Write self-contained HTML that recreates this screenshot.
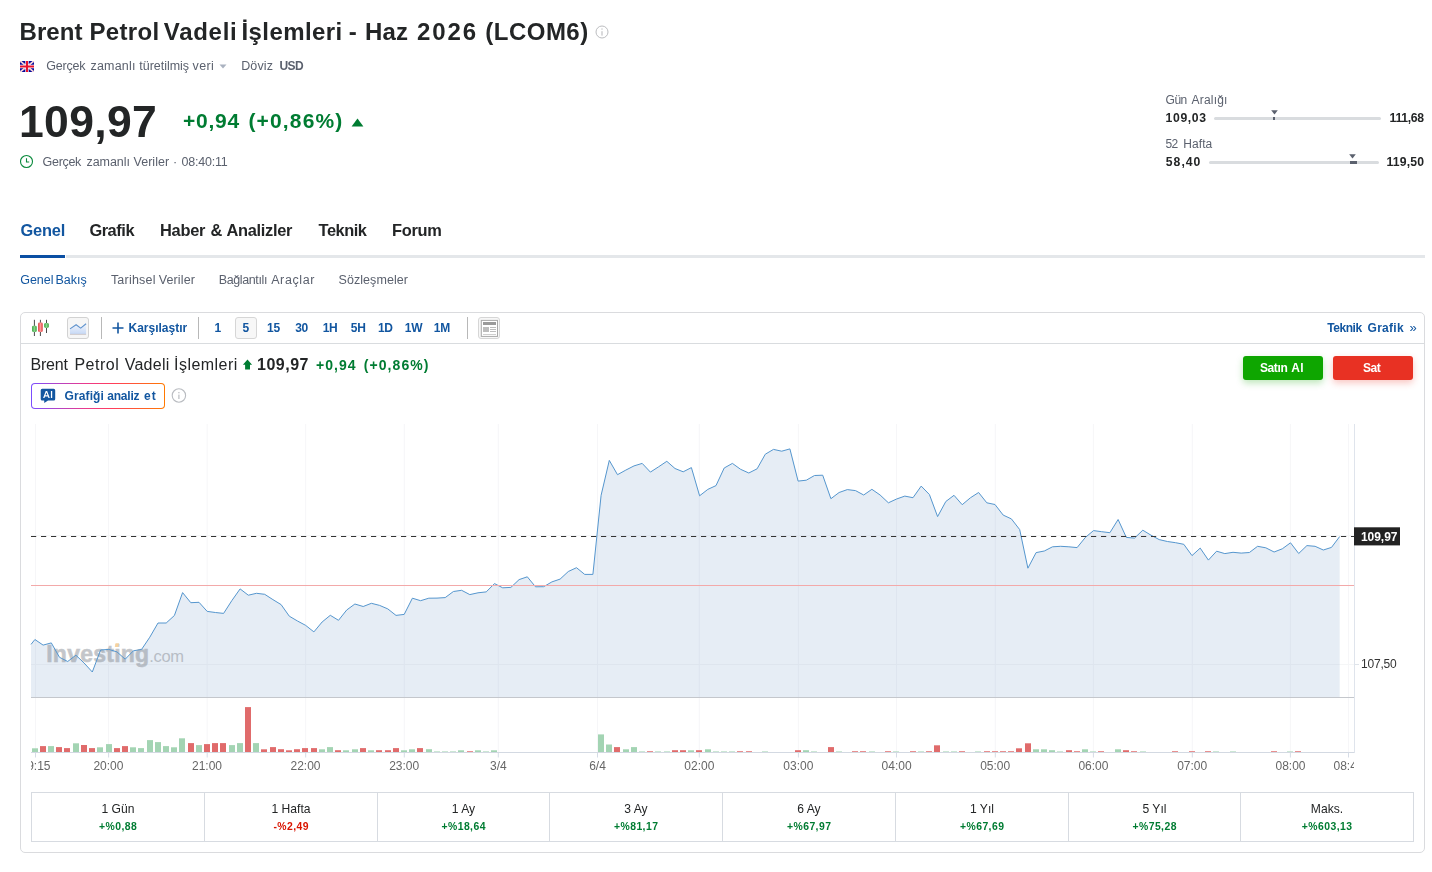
<!DOCTYPE html>
<html><head><meta charset="utf-8"><title>Brent</title><style>
html,body{margin:0;padding:0;background:#fff;}
body{width:1432px;height:872px;position:relative;overflow:hidden;font-family:"Liberation Sans",sans-serif;}
.abs{position:absolute;}
.t{position:absolute;white-space:nowrap;line-height:1;}
</style></head><body>
<svg class="abs" style="left:20px;top:61px" width="14" height="11" viewBox="0 0 14 11">
<rect width="14" height="11" fill="#0a0a96"/>
<path d="M0,0 L14,11 M14,0 L0,11" stroke="#fff" stroke-width="1.7"/>
<path d="M0,0 L14,11 M14,0 L0,11" stroke="#f08a96" stroke-width="0.6"/>
<path d="M7,0 V11 M0,5.5 H14" stroke="#fff" stroke-width="3.4"/>
<path d="M7,0 V11 M0,5.5 H14" stroke="#e8112d" stroke-width="2.1"/>
</svg>
<svg class="abs" style="left:219px;top:64px" width="8" height="5" viewBox="0 0 8 5"><path d="M0.5,0.5 H7.5 L4,4.5 Z" fill="#aab2c0"/></svg>
<svg class="abs" style="left:595px;top:25px" width="14" height="14" viewBox="0 0 14 14"><circle cx="7" cy="7" r="6" fill="none" stroke="#bcbdc0" stroke-width="1"/><rect x="6.45" y="6.2" width="1.1" height="4.4" fill="#bcbdc0"/><rect x="6.45" y="3.4" width="1.1" height="1.3" fill="#bcbdc0"/></svg>
<svg class="abs" style="left:351px;top:118px" width="13" height="9" viewBox="0 0 13 9"><path d="M6.5,0.6 L12.4,8.4 H0.6 Z" fill="#007c32"/></svg>
<svg class="abs" style="left:19px;top:154px" width="15" height="15" viewBox="0 0 15 15"><circle cx="7.5" cy="7.5" r="6" fill="none" stroke="#0a8a3c" stroke-width="1.1"/><path d="M7.5,4.2 V8 H10.2" fill="none" stroke="#0a8a3c" stroke-width="1.1"/></svg>
<div class="abs" style="left:1214px;top:117px;width:167px;height:3px;background:#d9dcdf;border-radius:2px"></div>
<div class="abs" style="left:1273.4px;top:117px;width:1.6px;height:3px;background:#5b616e"></div>
<svg class="abs" style="left:1271px;top:110px" width="7" height="5" viewBox="0 0 7 5"><path d="M0.2,0.3 H6.8 L3.5,4.4 Z" fill="#5b616e"/></svg>
<div class="abs" style="left:1209px;top:161px;width:170px;height:3px;background:#d9dcdf;border-radius:2px"></div>
<div class="abs" style="left:1349.8px;top:161px;width:7.3px;height:3px;background:#5b616e"></div>
<svg class="abs" style="left:1349px;top:154px" width="7" height="5" viewBox="0 0 7 5"><path d="M0.2,0.3 H6.8 L3.5,4.4 Z" fill="#5b616e"/></svg>
<div class="abs" style="left:66px;top:255px;width:1359px;height:3px;background:#e4e7ea"></div>
<div class="abs" style="left:20px;top:255px;width:45px;height:3px;background:#0b4fa3"></div>
<div class="abs" style="left:20px;top:312px;width:1403px;height:539px;border:1px solid #dadbde;border-radius:5px"></div>
<div class="abs" style="left:21px;top:343px;width:1403px;height:1px;background:#d9dcdf"></div>
<div class="abs" style="left:31px;top:383px;width:134px;height:26px;border-radius:4px;background:linear-gradient(90deg,#7a4dff 0%,#e93a8f 40%,#ff3d5e 60%,#ff7a00 100%)"></div>
<div class="abs" style="left:32px;top:384px;width:132px;height:24px;border-radius:3px;background:#fff"></div>
<div class="abs" style="left:67.3px;top:317.2px;width:19.3px;height:19.5px;border:1px solid #d2d2d2;border-radius:3px;background:#f6f6f6"></div>
<svg class="abs" style="left:0;top:0" width="520" height="420" viewBox="0 0 520 420">
<defs><linearGradient id="gG" x1="0" x2="1" y1="0" y2="0"><stop offset="0" stop-color="#2f9e36"/><stop offset=".5" stop-color="#8bd68e"/><stop offset="1" stop-color="#2f9e36"/></linearGradient>
<linearGradient id="gR" x1="0" x2="1" y1="0" y2="0"><stop offset="0" stop-color="#dc3535"/><stop offset=".5" stop-color="#ff9a9a"/><stop offset="1" stop-color="#dc3535"/></linearGradient>
<linearGradient id="gA" x1="0" x2="0" y1="0" y2="1"><stop offset="0" stop-color="#f2f6fd"/><stop offset="1" stop-color="#c6d8f5"/></linearGradient></defs>
<path d="M34.4,319.8 V336 M40.4,319.8 V336 M46.5,319.8 V333" stroke="#4a4a4a" stroke-width="1" fill="none"/>
<rect x="32.1" y="325.7" width="4.6" height="6.4" rx="1.4" fill="url(#gG)"/>
<rect x="38.1" y="322.5" width="4.6" height="9.6" rx="1.4" fill="url(#gR)"/>
<rect x="44.2" y="323.1" width="4.6" height="4.9" rx="1.4" fill="url(#gG)"/>
<path d="M70,328.9 L76.1,324.7 L80.7,328.1 L86.1,323.7 V334.3 H70 Z" fill="url(#gA)"/>
<path d="M70,334.4 H86.1" stroke="#c9c2c2" stroke-width="0.8"/>
<path d="M70,328.9 L76.1,324.7 L80.7,328.1 L86.1,323.7" fill="none" stroke="#5f92cc" stroke-width="1.1"/>
<path d="M247.5,359.6 L252.1,364.8 H250 V369.6 H245.1 V364.8 H242.9 Z" fill="#007c32"/>
<path d="M42.2,388.7 H53.7 Q55.2,388.7 55.2,390.2 V399 Q55.2,400.5 53.7,400.5 H48 L44.3,403.1 L44.2,400.5 H42.2 Q40.7,400.5 40.7,399 V390.2 Q40.7,388.7 42.2,388.7 Z" fill="#1256a0"/>
<path d="M43.1,398 L45.75,391 H47.15 L49.8,398 H48.45 L47.9,396.45 H45 L44.45,398 Z M45.4,395.35 H47.5 L46.45,392.4 Z M50.9,391 H52.2 V398 H50.9 Z" fill="#fff"/>
<circle cx="178.9" cy="395.5" r="6.7" fill="none" stroke="#b9bcc1" stroke-width="1.1"/><rect x="178.3" y="394.6" width="1.2" height="4.4" fill="#b9bcc1"/><rect x="178.3" y="392" width="1.2" height="1.3" fill="#b9bcc1"/>
</svg>
<div class="abs" style="left:101px;top:317px;width:1px;height:22px;background:#b8b8b8"></div>
<div class="abs" style="left:198px;top:317px;width:1px;height:22px;background:#b8b8b8"></div>
<div class="abs" style="left:467px;top:317px;width:1px;height:22px;background:#b8b8b8"></div>
<svg class="abs" style="left:112px;top:322px" width="12" height="12" viewBox="0 0 12 12"><path d="M6,0.5 V11.5 M0.5,6 H11.5" stroke="#1256a0" stroke-width="1.6"/></svg>
<div class="abs" style="left:235.3px;top:317.2px;width:19.4px;height:19.6px;border:1px solid #d6d6d6;border-radius:3px;background:#f7f7f7"></div>
<div class="abs" style="left:478.2px;top:317.2px;width:19.6px;height:19.6px;border:1px solid #d6d6d6;border-radius:3px;background:#f7f7f7"></div>
<svg class="abs" style="left:480px;top:319px" width="19" height="19" viewBox="0 0 19 19">
<rect x="1.3" y="1.4" width="16.2" height="16" fill="#fff" stroke="#a8a8a8" stroke-width="1"/>
<rect x="3" y="3" width="13" height="3" fill="#9a9a9a"/><rect x="3" y="8" width="6" height="5" fill="#bdbdbd"/>
<rect x="10" y="8" width="6" height="1" fill="#bdbdbd"/><rect x="10" y="10" width="6" height="1" fill="#bdbdbd"/><rect x="10" y="12" width="6" height="1" fill="#bdbdbd"/>
<rect x="3" y="15" width="13" height="1" fill="#cfcfcf"/></svg>
<div class="abs" style="left:1243px;top:356px;width:80px;height:24px;border-radius:3px;background:#0ea600;box-shadow:0 3px 7px rgba(14,166,0,.28)"></div>
<div class="abs" style="left:1333px;top:356px;width:80px;height:24px;border-radius:3px;background:#e83123;box-shadow:0 3px 7px rgba(232,49,35,.28)"></div>
<svg class="abs" style="left:0;top:0" width="1432" height="872" viewBox="0 0 1432 872">
<line x1="35.5" y1="424" x2="35.5" y2="752" stroke="#f6f6f8" stroke-width="1"/>
<line x1="35.5" y1="752" x2="35.5" y2="757.5" stroke="#d6dce6" stroke-width="1"/>
<line x1="108.6" y1="424" x2="108.6" y2="752" stroke="#f6f6f8" stroke-width="1"/>
<line x1="108.6" y1="752" x2="108.6" y2="757.5" stroke="#d6dce6" stroke-width="1"/>
<line x1="207.2" y1="424" x2="207.2" y2="752" stroke="#f6f6f8" stroke-width="1"/>
<line x1="207.2" y1="752" x2="207.2" y2="757.5" stroke="#d6dce6" stroke-width="1"/>
<line x1="305.7" y1="424" x2="305.7" y2="752" stroke="#f6f6f8" stroke-width="1"/>
<line x1="305.7" y1="752" x2="305.7" y2="757.5" stroke="#d6dce6" stroke-width="1"/>
<line x1="404.3" y1="424" x2="404.3" y2="752" stroke="#f6f6f8" stroke-width="1"/>
<line x1="404.3" y1="752" x2="404.3" y2="757.5" stroke="#d6dce6" stroke-width="1"/>
<line x1="498.3" y1="424" x2="498.3" y2="752" stroke="#f6f6f8" stroke-width="1"/>
<line x1="498.3" y1="752" x2="498.3" y2="757.5" stroke="#d6dce6" stroke-width="1"/>
<line x1="597.5" y1="424" x2="597.5" y2="752" stroke="#f6f6f8" stroke-width="1"/>
<line x1="597.5" y1="752" x2="597.5" y2="757.5" stroke="#d6dce6" stroke-width="1"/>
<line x1="699.3" y1="424" x2="699.3" y2="752" stroke="#f6f6f8" stroke-width="1"/>
<line x1="699.3" y1="752" x2="699.3" y2="757.5" stroke="#d6dce6" stroke-width="1"/>
<line x1="798.4" y1="424" x2="798.4" y2="752" stroke="#f6f6f8" stroke-width="1"/>
<line x1="798.4" y1="752" x2="798.4" y2="757.5" stroke="#d6dce6" stroke-width="1"/>
<line x1="896.5" y1="424" x2="896.5" y2="752" stroke="#f6f6f8" stroke-width="1"/>
<line x1="896.5" y1="752" x2="896.5" y2="757.5" stroke="#d6dce6" stroke-width="1"/>
<line x1="995.3" y1="424" x2="995.3" y2="752" stroke="#f6f6f8" stroke-width="1"/>
<line x1="995.3" y1="752" x2="995.3" y2="757.5" stroke="#d6dce6" stroke-width="1"/>
<line x1="1093.4" y1="424" x2="1093.4" y2="752" stroke="#f6f6f8" stroke-width="1"/>
<line x1="1093.4" y1="752" x2="1093.4" y2="757.5" stroke="#d6dce6" stroke-width="1"/>
<line x1="1192.3" y1="424" x2="1192.3" y2="752" stroke="#f6f6f8" stroke-width="1"/>
<line x1="1192.3" y1="752" x2="1192.3" y2="757.5" stroke="#d6dce6" stroke-width="1"/>
<line x1="1290.4" y1="424" x2="1290.4" y2="752" stroke="#f6f6f8" stroke-width="1"/>
<line x1="1290.4" y1="752" x2="1290.4" y2="757.5" stroke="#d6dce6" stroke-width="1"/>
<line x1="1348.5" y1="424" x2="1348.5" y2="752" stroke="#f6f6f8" stroke-width="1"/>
<line x1="1348.5" y1="752" x2="1348.5" y2="757.5" stroke="#d6dce6" stroke-width="1"/>
<line x1="31" y1="664.5" x2="1354" y2="664.5" stroke="#f5f6f7" stroke-width="1"/>
<line x1="31" y1="535.5" x2="1354" y2="535.5" stroke="#f5f6f7" stroke-width="1"/>
<line x1="1354" y1="664.5" x2="1359" y2="664.5" stroke="#dfe4ea" stroke-width="1"/>
<path d="M31,697 L31.0,644.4 L34.9,639.5 L43.1,645.1 L51.3,642.9 L59.5,657.3 L67.7,661.5 L75.9,655.2 L84.1,663.0 L92.3,672.0 L100.6,650.0 L108.8,649.4 L117.0,651.9 L125.2,659.2 L133.4,650.8 L141.6,649.4 L149.8,637.2 L158.0,623.0 L166.2,623.0 L174.4,615.5 L182.6,592.6 L190.8,602.7 L199.0,602.3 L207.2,611.4 L215.4,612.5 L223.6,613.4 L231.9,600.5 L240.1,588.9 L248.3,595.2 L256.5,593.3 L264.7,594.3 L272.9,599.6 L281.1,604.6 L289.3,616.2 L297.5,621.0 L305.7,625.4 L313.9,631.9 L322.1,622.0 L330.3,615.3 L338.5,620.3 L346.7,610.0 L354.9,604.0 L363.2,606.5 L371.4,603.3 L379.6,605.4 L387.8,608.9 L396.0,615.4 L404.2,614.4 L412.4,598.2 L420.6,600.7 L428.8,598.2 L437.0,598.1 L445.2,597.6 L453.4,591.5 L461.6,590.3 L469.8,594.6 L478.0,592.8 L486.2,591.9 L494.5,583.6 L502.7,587.8 L510.9,587.4 L519.1,579.6 L527.3,576.8 L535.5,586.8 L543.7,586.7 L551.9,581.9 L560.1,579.1 L568.3,571.5 L576.5,567.7 L584.7,574.4 L592.9,574.4 L601.1,495.3 L609.3,460.4 L617.5,474.7 L625.8,470.1 L634.0,465.9 L642.2,463.4 L650.4,472.1 L658.6,466.8 L666.8,461.3 L675.0,468.5 L683.2,471.8 L691.4,467.6 L699.6,495.8 L707.8,489.4 L716.0,485.6 L724.2,468.0 L732.4,463.4 L740.6,469.3 L748.8,473.0 L757.1,468.8 L765.3,454.2 L773.5,449.4 L781.7,451.2 L789.9,448.9 L798.1,481.1 L806.3,480.2 L814.5,475.5 L822.7,475.2 L830.9,498.7 L839.1,492.5 L847.3,489.6 L855.5,490.6 L863.7,495.0 L871.9,489.3 L880.1,495.0 L888.4,502.8 L896.6,499.0 L904.8,496.1 L913.0,497.7 L921.2,486.1 L929.4,494.5 L937.6,516.6 L945.8,501.5 L954.0,495.3 L962.2,504.7 L970.4,497.8 L978.6,492.5 L986.8,502.8 L995.0,504.5 L1003.2,515.1 L1011.4,518.9 L1019.7,529.6 L1027.9,568.2 L1036.1,552.6 L1044.3,551.0 L1052.5,546.8 L1060.7,546.3 L1068.9,546.8 L1077.1,547.6 L1085.3,537.5 L1093.5,530.6 L1101.7,531.7 L1109.9,532.7 L1118.1,519.5 L1126.3,537.4 L1134.5,538.1 L1142.8,530.2 L1151.0,535.2 L1159.2,539.6 L1167.4,541.5 L1175.6,542.7 L1183.8,544.3 L1192.0,555.6 L1200.2,548.1 L1208.4,560.1 L1216.6,551.2 L1224.8,553.6 L1233.0,552.3 L1241.2,553.1 L1249.4,552.5 L1257.6,546.3 L1265.8,547.8 L1274.1,552.0 L1282.3,548.8 L1290.5,542.8 L1298.7,553.5 L1306.9,545.6 L1315.1,546.3 L1323.3,550.0 L1331.5,547.4 L1339.7,536.5 L1339.7,697 Z" fill="#82a5cd" fill-opacity="0.2"/>
<g font-family="Liberation Sans, sans-serif" opacity="0.5"><text x="46.2" y="662" font-size="23" font-weight="700" fill="#8a8f96" stroke="#8a8f96" stroke-width="0.55" letter-spacing="0.25">Investing</text><text x="149.3" y="662" font-size="16.5" fill="#8a8f96" letter-spacing="-0.35">.com</text></g>
<path d="M115.6,643.3 L119,643.3 L118.2,647 L114.8,647 Z" fill="#f9d39a" opacity="0.9"/>
<polyline points="31.0,644.4 34.9,639.5 43.1,645.1 51.3,642.9 59.5,657.3 67.7,661.5 75.9,655.2 84.1,663.0 92.3,672.0 100.6,650.0 108.8,649.4 117.0,651.9 125.2,659.2 133.4,650.8 141.6,649.4 149.8,637.2 158.0,623.0 166.2,623.0 174.4,615.5 182.6,592.6 190.8,602.7 199.0,602.3 207.2,611.4 215.4,612.5 223.6,613.4 231.9,600.5 240.1,588.9 248.3,595.2 256.5,593.3 264.7,594.3 272.9,599.6 281.1,604.6 289.3,616.2 297.5,621.0 305.7,625.4 313.9,631.9 322.1,622.0 330.3,615.3 338.5,620.3 346.7,610.0 354.9,604.0 363.2,606.5 371.4,603.3 379.6,605.4 387.8,608.9 396.0,615.4 404.2,614.4 412.4,598.2 420.6,600.7 428.8,598.2 437.0,598.1 445.2,597.6 453.4,591.5 461.6,590.3 469.8,594.6 478.0,592.8 486.2,591.9 494.5,583.6 502.7,587.8 510.9,587.4 519.1,579.6 527.3,576.8 535.5,586.8 543.7,586.7 551.9,581.9 560.1,579.1 568.3,571.5 576.5,567.7 584.7,574.4 592.9,574.4 601.1,495.3 609.3,460.4 617.5,474.7 625.8,470.1 634.0,465.9 642.2,463.4 650.4,472.1 658.6,466.8 666.8,461.3 675.0,468.5 683.2,471.8 691.4,467.6 699.6,495.8 707.8,489.4 716.0,485.6 724.2,468.0 732.4,463.4 740.6,469.3 748.8,473.0 757.1,468.8 765.3,454.2 773.5,449.4 781.7,451.2 789.9,448.9 798.1,481.1 806.3,480.2 814.5,475.5 822.7,475.2 830.9,498.7 839.1,492.5 847.3,489.6 855.5,490.6 863.7,495.0 871.9,489.3 880.1,495.0 888.4,502.8 896.6,499.0 904.8,496.1 913.0,497.7 921.2,486.1 929.4,494.5 937.6,516.6 945.8,501.5 954.0,495.3 962.2,504.7 970.4,497.8 978.6,492.5 986.8,502.8 995.0,504.5 1003.2,515.1 1011.4,518.9 1019.7,529.6 1027.9,568.2 1036.1,552.6 1044.3,551.0 1052.5,546.8 1060.7,546.3 1068.9,546.8 1077.1,547.6 1085.3,537.5 1093.5,530.6 1101.7,531.7 1109.9,532.7 1118.1,519.5 1126.3,537.4 1134.5,538.1 1142.8,530.2 1151.0,535.2 1159.2,539.6 1167.4,541.5 1175.6,542.7 1183.8,544.3 1192.0,555.6 1200.2,548.1 1208.4,560.1 1216.6,551.2 1224.8,553.6 1233.0,552.3 1241.2,553.1 1249.4,552.5 1257.6,546.3 1265.8,547.8 1274.1,552.0 1282.3,548.8 1290.5,542.8 1298.7,553.5 1306.9,545.6 1315.1,546.3 1323.3,550.0 1331.5,547.4 1339.7,536.5" fill="none" stroke="#5596ce" stroke-width="1" stroke-linejoin="round"/>
<line x1="31" y1="585.5" x2="1354" y2="585.5" stroke="#f3a9a9" stroke-width="1"/>
<line x1="31" y1="536.5" x2="1354" y2="536.5" stroke="#333" stroke-width="1.1" stroke-dasharray="5.2,4.8"/>
<line x1="31" y1="697.5" x2="1354" y2="697.5" stroke="#c4c7cc" stroke-width="1"/>
<rect x="32" y="748.3" width="6" height="3.7" fill="#a3d4b3"/>
<rect x="40" y="746.1" width="6" height="5.9" fill="#e06b6b"/>
<rect x="48" y="746.1" width="6" height="5.9" fill="#a3d4b3"/>
<rect x="56" y="747.1" width="6" height="4.9" fill="#e06b6b"/>
<rect x="64" y="748.1" width="6" height="3.9" fill="#e06b6b"/>
<rect x="73" y="743.3" width="6" height="8.7" fill="#a3d4b3"/>
<rect x="81" y="745.0" width="6" height="7.0" fill="#e06b6b"/>
<rect x="89" y="748.1" width="6" height="3.9" fill="#e06b6b"/>
<rect x="97" y="747.3" width="6" height="4.7" fill="#a3d4b3"/>
<rect x="106" y="744.1" width="6" height="7.9" fill="#a3d4b3"/>
<rect x="114" y="748.1" width="6" height="3.9" fill="#e06b6b"/>
<rect x="122" y="746.1" width="6" height="5.9" fill="#e06b6b"/>
<rect x="130" y="747.3" width="6" height="4.7" fill="#a3d4b3"/>
<rect x="138" y="748.1" width="6" height="3.9" fill="#a3d4b3"/>
<rect x="147" y="740.1" width="6" height="11.9" fill="#a3d4b3"/>
<rect x="155" y="742.1" width="6" height="9.9" fill="#a3d4b3"/>
<rect x="163" y="746.1" width="6" height="5.9" fill="#a3d4b3"/>
<rect x="171" y="747.3" width="6" height="4.7" fill="#a3d4b3"/>
<rect x="179" y="738.3" width="6" height="13.7" fill="#a3d4b3"/>
<rect x="188" y="743.1" width="6" height="8.9" fill="#e06b6b"/>
<rect x="196" y="745.1" width="6" height="6.9" fill="#a3d4b3"/>
<rect x="204" y="744.1" width="6" height="7.9" fill="#e06b6b"/>
<rect x="212" y="743.1" width="6" height="8.9" fill="#e06b6b"/>
<rect x="220" y="743.1" width="6" height="8.9" fill="#e06b6b"/>
<rect x="229" y="745.1" width="6" height="6.9" fill="#a3d4b3"/>
<rect x="237" y="743.1" width="6" height="8.9" fill="#a3d4b3"/>
<rect x="245" y="707.1" width="6" height="44.9" fill="#e06b6b"/>
<rect x="253" y="743.1" width="6" height="8.9" fill="#a3d4b3"/>
<rect x="261" y="749.3" width="6" height="2.7" fill="#e06b6b"/>
<rect x="270" y="747.1" width="6" height="4.9" fill="#e06b6b"/>
<rect x="278" y="749.2" width="6" height="2.8" fill="#e06b6b"/>
<rect x="286" y="750.3" width="6" height="1.7" fill="#e06b6b"/>
<rect x="294" y="749.2" width="6" height="2.8" fill="#e06b6b"/>
<rect x="302" y="748.1" width="6" height="3.9" fill="#e06b6b"/>
<rect x="311" y="748.1" width="6" height="3.9" fill="#e06b6b"/>
<rect x="319" y="749.3" width="6" height="2.7" fill="#a3d4b3"/>
<rect x="327" y="747.1" width="6" height="4.9" fill="#a3d4b3"/>
<rect x="335" y="750.2" width="6" height="1.8" fill="#e06b6b"/>
<rect x="343" y="750.3" width="6" height="1.7" fill="#a3d4b3"/>
<rect x="352" y="749.3" width="6" height="2.7" fill="#a3d4b3"/>
<rect x="360" y="748.1" width="6" height="3.9" fill="#e06b6b"/>
<rect x="368" y="750.3" width="6" height="1.7" fill="#a3d4b3"/>
<rect x="376" y="750.2" width="6" height="1.8" fill="#e06b6b"/>
<rect x="385" y="750.2" width="6" height="1.8" fill="#e06b6b"/>
<rect x="393" y="748.1" width="6" height="3.9" fill="#e06b6b"/>
<rect x="401" y="750.3" width="6" height="1.7" fill="#a3d4b3"/>
<rect x="409" y="749.3" width="6" height="2.7" fill="#a3d4b3"/>
<rect x="417" y="748.1" width="6" height="3.9" fill="#e06b6b"/>
<rect x="426" y="749.2" width="6" height="2.8" fill="#a3d4b3"/>
<rect x="434" y="751" width="6" height="1" fill="#a3d4b3" fill-opacity="0.55"/>
<rect x="442" y="751" width="6" height="1" fill="#a3d4b3" fill-opacity="0.55"/>
<rect x="450" y="751" width="6" height="1" fill="#a3d4b3" fill-opacity="0.55"/>
<rect x="458" y="750.3" width="6" height="1.7" fill="#a3d4b3"/>
<rect x="467" y="751" width="6" height="1" fill="#e06b6b" fill-opacity="0.75"/>
<rect x="475" y="750.3" width="6" height="1.7" fill="#a3d4b3"/>
<rect x="483" y="751" width="6" height="1" fill="#a3d4b3" fill-opacity="0.55"/>
<rect x="491" y="750.3" width="6" height="1.7" fill="#a3d4b3"/>
<rect x="598" y="734.4" width="6" height="17.6" fill="#a3d4b3"/>
<rect x="606" y="744.5" width="6" height="7.5" fill="#a3d4b3"/>
<rect x="614" y="747.1" width="6" height="4.9" fill="#e06b6b"/>
<rect x="623" y="749.3" width="6" height="2.7" fill="#a3d4b3"/>
<rect x="631" y="747.1" width="6" height="4.9" fill="#a3d4b3"/>
<rect x="639" y="751" width="6" height="1" fill="#a3d4b3" fill-opacity="0.55"/>
<rect x="647" y="751" width="6" height="1" fill="#e06b6b" fill-opacity="0.75"/>
<rect x="655" y="751" width="6" height="1" fill="#a3d4b3" fill-opacity="0.55"/>
<rect x="664" y="751" width="6" height="1" fill="#a3d4b3" fill-opacity="0.55"/>
<rect x="672" y="750.2" width="6" height="1.8" fill="#e06b6b"/>
<rect x="680" y="750.2" width="6" height="1.8" fill="#e06b6b"/>
<rect x="688" y="750.3" width="6" height="1.7" fill="#a3d4b3"/>
<rect x="696" y="750.2" width="6" height="1.8" fill="#e06b6b"/>
<rect x="705" y="749.3" width="6" height="2.7" fill="#a3d4b3"/>
<rect x="713" y="751" width="6" height="1" fill="#a3d4b3" fill-opacity="0.55"/>
<rect x="721" y="751" width="6" height="1" fill="#a3d4b3" fill-opacity="0.55"/>
<rect x="729" y="751" width="6" height="1" fill="#a3d4b3" fill-opacity="0.55"/>
<rect x="737" y="751" width="6" height="1" fill="#e06b6b" fill-opacity="0.75"/>
<rect x="746" y="751" width="6" height="1" fill="#e06b6b" fill-opacity="0.75"/>
<rect x="762" y="751" width="6" height="1" fill="#a3d4b3" fill-opacity="0.55"/>
<rect x="795" y="750.2" width="6" height="1.8" fill="#e06b6b"/>
<rect x="803" y="750.2" width="6" height="1.8" fill="#a3d4b3"/>
<rect x="811" y="751" width="6" height="1" fill="#a3d4b3" fill-opacity="0.55"/>
<rect x="828" y="747.1" width="6" height="4.9" fill="#e06b6b"/>
<rect x="836" y="751" width="6" height="1" fill="#a3d4b3" fill-opacity="0.55"/>
<rect x="852" y="751" width="6" height="1" fill="#e06b6b" fill-opacity="0.75"/>
<rect x="860" y="751" width="6" height="1" fill="#e06b6b" fill-opacity="0.75"/>
<rect x="869" y="751" width="6" height="1" fill="#a3d4b3" fill-opacity="0.55"/>
<rect x="885" y="751" width="6" height="1" fill="#e06b6b" fill-opacity="0.75"/>
<rect x="893" y="751" width="6" height="1" fill="#a3d4b3" fill-opacity="0.55"/>
<rect x="910" y="751" width="6" height="1" fill="#e06b6b" fill-opacity="0.75"/>
<rect x="918" y="751" width="6" height="1" fill="#a3d4b3" fill-opacity="0.55"/>
<rect x="926" y="751" width="6" height="1" fill="#e06b6b" fill-opacity="0.75"/>
<rect x="934" y="745.3" width="6" height="6.7" fill="#e06b6b"/>
<rect x="943" y="751" width="6" height="1" fill="#a3d4b3" fill-opacity="0.55"/>
<rect x="951" y="751" width="6" height="1" fill="#a3d4b3" fill-opacity="0.55"/>
<rect x="959" y="751" width="6" height="1" fill="#e06b6b" fill-opacity="0.75"/>
<rect x="975" y="751" width="6" height="1" fill="#a3d4b3" fill-opacity="0.55"/>
<rect x="984" y="751" width="6" height="1" fill="#e06b6b" fill-opacity="0.75"/>
<rect x="992" y="751" width="6" height="1" fill="#e06b6b" fill-opacity="0.75"/>
<rect x="1000" y="751" width="6" height="1" fill="#e06b6b" fill-opacity="0.75"/>
<rect x="1008" y="751" width="6" height="1" fill="#e06b6b" fill-opacity="0.75"/>
<rect x="1016" y="748.3" width="6" height="3.7" fill="#e06b6b"/>
<rect x="1025" y="743.3" width="6" height="8.7" fill="#e06b6b"/>
<rect x="1033" y="749.3" width="6" height="2.7" fill="#a3d4b3"/>
<rect x="1041" y="749.3" width="6" height="2.7" fill="#a3d4b3"/>
<rect x="1049" y="750.2" width="6" height="1.8" fill="#a3d4b3"/>
<rect x="1057" y="751" width="6" height="1" fill="#a3d4b3" fill-opacity="0.55"/>
<rect x="1066" y="750.2" width="6" height="1.8" fill="#e06b6b"/>
<rect x="1074" y="751" width="6" height="1" fill="#e06b6b" fill-opacity="0.75"/>
<rect x="1082" y="749.3" width="6" height="2.7" fill="#a3d4b3"/>
<rect x="1090" y="751" width="6" height="1" fill="#a3d4b3" fill-opacity="0.55"/>
<rect x="1098" y="751" width="6" height="1" fill="#e06b6b" fill-opacity="0.75"/>
<rect x="1115" y="749.3" width="6" height="2.7" fill="#a3d4b3"/>
<rect x="1123" y="750.2" width="6" height="1.8" fill="#e06b6b"/>
<rect x="1131" y="751" width="6" height="1" fill="#e06b6b" fill-opacity="0.75"/>
<rect x="1140" y="751" width="6" height="1" fill="#a3d4b3" fill-opacity="0.55"/>
<rect x="1172" y="751" width="6" height="1" fill="#e06b6b" fill-opacity="0.75"/>
<rect x="1189" y="751" width="6" height="1" fill="#e06b6b" fill-opacity="0.75"/>
<rect x="1205" y="751" width="6" height="1" fill="#e06b6b" fill-opacity="0.75"/>
<rect x="1213" y="751" width="6" height="1" fill="#a3d4b3" fill-opacity="0.55"/>
<rect x="1230" y="751" width="6" height="1" fill="#a3d4b3" fill-opacity="0.55"/>
<rect x="1271" y="751" width="6" height="1" fill="#e06b6b" fill-opacity="0.75"/>
<rect x="1287" y="751" width="6" height="1" fill="#a3d4b3" fill-opacity="0.55"/>
<rect x="1295" y="751" width="6" height="1" fill="#e06b6b" fill-opacity="0.75"/>
<line x1="31" y1="752.5" x2="1354" y2="752.5" stroke="#d3d9e2" stroke-width="1"/>
<line x1="1354.5" y1="424" x2="1354.5" y2="753" stroke="#dfe4ec" stroke-width="1"/>
</svg>
<div class="abs" style="left:31px;top:755px;width:1323px;height:22px;overflow:hidden;will-change:transform">
<span class="t" style="left:-25.5px;width:60px;text-align:center;top:4.6px;font-size:12px;color:#666">19:15</span>
<span class="t" style="left:47.4px;width:60px;text-align:center;top:4.6px;font-size:12px;color:#666">20:00</span>
<span class="t" style="left:146.0px;width:60px;text-align:center;top:4.6px;font-size:12px;color:#666">21:00</span>
<span class="t" style="left:244.5px;width:60px;text-align:center;top:4.6px;font-size:12px;color:#666">22:00</span>
<span class="t" style="left:343.2px;width:60px;text-align:center;top:4.6px;font-size:12px;color:#666">23:00</span>
<span class="t" style="left:437.4px;width:60px;text-align:center;top:4.6px;font-size:12px;color:#666">3/4</span>
<span class="t" style="left:536.5px;width:60px;text-align:center;top:4.6px;font-size:12px;color:#666">6/4</span>
<span class="t" style="left:638.3px;width:60px;text-align:center;top:4.6px;font-size:12px;color:#666">02:00</span>
<span class="t" style="left:737.3px;width:60px;text-align:center;top:4.6px;font-size:12px;color:#666">03:00</span>
<span class="t" style="left:835.6px;width:60px;text-align:center;top:4.6px;font-size:12px;color:#666">04:00</span>
<span class="t" style="left:934.2px;width:60px;text-align:center;top:4.6px;font-size:12px;color:#666">05:00</span>
<span class="t" style="left:1032.4px;width:60px;text-align:center;top:4.6px;font-size:12px;color:#666">06:00</span>
<span class="t" style="left:1131.2px;width:60px;text-align:center;top:4.6px;font-size:12px;color:#666">07:00</span>
<span class="t" style="left:1229.5px;width:60px;text-align:center;top:4.6px;font-size:12px;color:#666">08:00</span>
<span class="t" style="left:1287.5px;width:60px;text-align:center;top:4.6px;font-size:12px;color:#666">08:40</span>
</div>
<span class="t" style="left:1361px;top:657.9px;font-size:12px;color:#333;letter-spacing:-0.2px;will-change:transform">107,50</span>
<svg class="abs" style="left:1354px;top:526px" width="47" height="21"><rect x="0" y="1.3" width="46" height="18.1" fill="#222"/></svg>
<span class="t" style="left:1360.6px;top:531.3px;font-size:12px;font-weight:700;color:#fff;letter-spacing:-0.05px;will-change:transform">109,97</span>
<div class="abs" style="left:31px;top:792px;width:1381px;height:48px;border:1px solid #d7dbe1;box-sizing:content-box"></div>
<div class="abs" style="left:204px;top:793px;width:1px;height:48px;background:#d7dbe1"></div>
<div class="abs" style="left:377px;top:793px;width:1px;height:48px;background:#d7dbe1"></div>
<div class="abs" style="left:549px;top:793px;width:1px;height:48px;background:#d7dbe1"></div>
<div class="abs" style="left:722px;top:793px;width:1px;height:48px;background:#d7dbe1"></div>
<div class="abs" style="left:895px;top:793px;width:1px;height:48px;background:#d7dbe1"></div>
<div class="abs" style="left:1068px;top:793px;width:1px;height:48px;background:#d7dbe1"></div>
<div class="abs" style="left:1240px;top:793px;width:1px;height:48px;background:#d7dbe1"></div>
<svg class="abs" style="left:0;top:0" width="1432" height="872" viewBox="0 0 1432 872" font-family="Liberation Sans, sans-serif" text-anchor="middle">
<text x="118.0" y="813" font-size="12.1" fill="#232526">1 Gün</text>
<text x="118.2" y="830" font-size="10.4" font-weight="700" fill="#007c32" letter-spacing="0.45">+%0,88</text>
<text x="291.0" y="813" font-size="12.1" fill="#232526">1 Hafta</text>
<text x="291.2" y="830" font-size="10.4" font-weight="700" fill="#d91400" letter-spacing="0.45">-%2,49</text>
<text x="463.5" y="813" font-size="12.1" fill="#232526">1 Ay</text>
<text x="463.7" y="830" font-size="10.4" font-weight="700" fill="#007c32" letter-spacing="0.45">+%18,64</text>
<text x="636.0" y="813" font-size="12.1" fill="#232526">3 Ay</text>
<text x="636.2" y="830" font-size="10.4" font-weight="700" fill="#007c32" letter-spacing="0.45">+%81,17</text>
<text x="809.0" y="813" font-size="12.1" fill="#232526">6 Ay</text>
<text x="809.2" y="830" font-size="10.4" font-weight="700" fill="#007c32" letter-spacing="0.45">+%67,97</text>
<text x="982.0" y="813" font-size="12.1" fill="#232526">1 Yıl</text>
<text x="982.2" y="830" font-size="10.4" font-weight="700" fill="#007c32" letter-spacing="0.45">+%67,69</text>
<text x="1154.5" y="813" font-size="12.1" fill="#232526">5 Yıl</text>
<text x="1154.7" y="830" font-size="10.4" font-weight="700" fill="#007c32" letter-spacing="0.45">+%75,28</text>
<text x="1327.0" y="813" font-size="12.1" fill="#232526">Maks.</text>
<text x="1327.2" y="830" font-size="10.4" font-weight="700" fill="#007c32" letter-spacing="0.45">+%603,13</text>
</svg>
<svg class="abs" style="left:0;top:0" width="1432" height="872" viewBox="0 0 1432 872" font-family="Liberation Sans, sans-serif">
<text x="19.50" y="40" font-size="24" font-weight="700" fill="#232526" letter-spacing="0.080">Brent</text>
<text x="89.50" y="40" font-size="24" font-weight="700" fill="#232526" letter-spacing="0.330">Petrol</text>
<text x="163.80" y="40" font-size="24" font-weight="700" fill="#232526" letter-spacing="0.699">Vadeli</text>
<text x="241.50" y="40" font-size="24" font-weight="700" fill="#232526" letter-spacing="0.409">İşlemleri</text>
<text x="348.75" y="40" font-size="24" font-weight="700" fill="#232526" letter-spacing="0.000">-</text>
<text x="365.00" y="40" font-size="24" font-weight="700" fill="#232526" letter-spacing="0.160">Haz</text>
<text x="417.10" y="40" font-size="24" font-weight="700" fill="#232526" letter-spacing="1.886">2026</text>
<text x="485.30" y="40" font-size="24" font-weight="700" fill="#232526" letter-spacing="0.485">(LCOM6)</text>
<text x="46.30" y="70" font-size="12.5" fill="#5b616e" letter-spacing="-0.208">Gerçek</text>
<text x="90.50" y="70" font-size="12.5" fill="#5b616e" letter-spacing="0.201">zamanlı</text>
<text x="139.30" y="70" font-size="12.5" fill="#5b616e" letter-spacing="-0.028">türetilmiş</text>
<text x="192.50" y="70" font-size="12.5" fill="#5b616e" letter-spacing="0.378">veri</text>
<text x="241.20" y="70" font-size="12.5" fill="#5b616e" letter-spacing="0.148">Döviz</text>
<text x="279.50" y="70" font-size="12" font-weight="700" fill="#5b616e" letter-spacing="-0.585">USD</text>
<text x="19.00" y="137" font-size="44.5" font-weight="700" fill="#232526" letter-spacing="0.328">109,97</text>
<text x="183.00" y="128" font-size="21" font-weight="700" fill="#007c32" letter-spacing="0.736">+0,94</text>
<text x="248.40" y="128" font-size="21" font-weight="700" fill="#007c32" letter-spacing="1.157">(+0,86%)</text>
<text x="42.60" y="166" font-size="12.5" fill="#5b616e" letter-spacing="-0.308">Gerçek</text>
<text x="86.50" y="166" font-size="12.5" fill="#5b616e" letter-spacing="-0.066">zamanlı</text>
<text x="133.50" y="166" font-size="12.5" fill="#5b616e" letter-spacing="0.022">Veriler</text>
<text x="173.05" y="166" font-size="12.5" fill="#5b616e" letter-spacing="0.000">·</text>
<text x="181.60" y="166" font-size="12.5" fill="#5b616e" letter-spacing="-0.225">08:40:11</text>
<text x="1165.60" y="104" font-size="12" fill="#5b616e" letter-spacing="-0.504">Gün</text>
<text x="1191.60" y="104" font-size="12" fill="#5b616e" letter-spacing="0.175">Aralığı</text>
<text x="1165.60" y="122" font-size="12.2" font-weight="700" fill="#232526" letter-spacing="0.640">109,03</text>
<text x="1389.60" y="122" font-size="12.2" font-weight="700" fill="#232526" letter-spacing="-0.310">111,68</text>
<text x="1165.60" y="148" font-size="12" fill="#5b616e" letter-spacing="-0.774">52</text>
<text x="1183.20" y="148" font-size="12" fill="#5b616e" letter-spacing="0.098">Hafta</text>
<text x="1165.84" y="166" font-size="12.2" font-weight="700" fill="#232526" letter-spacing="1.000">58,40</text>
<text x="1386.50" y="166" font-size="12.2" font-weight="700" fill="#232526" letter-spacing="0.175">119,50</text>
<text x="20.50" y="236" font-size="16.4" font-weight="700" fill="#1256a0" letter-spacing="-0.173">Genel</text>
<text x="89.40" y="236" font-size="16.4" font-weight="700" fill="#232526" letter-spacing="-0.451">Grafik</text>
<text x="160.00" y="236" font-size="16.4" font-weight="700" fill="#232526" letter-spacing="-0.245">Haber</text>
<text x="210.60" y="236" font-size="16.4" font-weight="700" fill="#232526" letter-spacing="0.000">&amp;</text>
<text x="226.40" y="236" font-size="16.4" font-weight="700" fill="#232526" letter-spacing="-0.280">Analizler</text>
<text x="318.60" y="236" font-size="16.4" font-weight="700" fill="#232526" letter-spacing="-0.498">Teknik</text>
<text x="392.00" y="236" font-size="16.4" font-weight="700" fill="#232526" letter-spacing="-0.304">Forum</text>
<text x="20.20" y="284" font-size="12.5" fill="#1256a0" letter-spacing="0.005">Genel</text>
<text x="55.50" y="284" font-size="12.5" fill="#1256a0" letter-spacing="0.022">Bakış</text>
<text x="110.90" y="284" font-size="12.5" fill="#5b616e" letter-spacing="0.215">Tarihsel</text>
<text x="158.70" y="284" font-size="12.5" fill="#5b616e" letter-spacing="0.139">Veriler</text>
<text x="218.70" y="284" font-size="12.5" fill="#5b616e" letter-spacing="-0.383">Bağlantılı</text>
<text x="271.20" y="284" font-size="12.5" fill="#5b616e" letter-spacing="0.595">Araçlar</text>
<text x="338.50" y="284" font-size="12.5" fill="#5b616e" letter-spacing="0.069">Sözleşmeler</text>
<text x="128.50" y="332" font-size="12" font-weight="700" fill="#1256a0" letter-spacing="-0.003">Karşılaştır</text>
<text x="214.40" y="332" font-size="12" font-weight="700" fill="#1256a0" letter-spacing="-0.350">1</text>
<text x="242.55" y="332" font-size="12" font-weight="700" fill="#1256a0" letter-spacing="-0.350">5</text>
<text x="267.09" y="332" font-size="12" font-weight="700" fill="#1256a0" letter-spacing="-0.350">15</text>
<text x="295.24" y="332" font-size="12" font-weight="700" fill="#1256a0" letter-spacing="-0.350">30</text>
<text x="322.69" y="332" font-size="12" font-weight="700" fill="#1256a0" letter-spacing="-0.350">1H</text>
<text x="350.84" y="332" font-size="12" font-weight="700" fill="#1256a0" letter-spacing="-0.350">5H</text>
<text x="378.04" y="332" font-size="12" font-weight="700" fill="#1256a0" letter-spacing="-0.350">1D</text>
<text x="404.84" y="332" font-size="12" font-weight="700" fill="#1256a0" letter-spacing="-0.350">1W</text>
<text x="433.84" y="332" font-size="12" font-weight="700" fill="#1256a0" letter-spacing="-0.350">1M</text>
<text x="1327.20" y="332" font-size="12" font-weight="700" fill="#1256a0" letter-spacing="-0.430">Teknik</text>
<text x="1367.50" y="332" font-size="12" font-weight="700" fill="#1256a0" letter-spacing="0.298">Grafik</text>
<text x="1409.40" y="331.5" font-size="13" fill="#1256a0" letter-spacing="0.000">»</text>
<text x="30.50" y="370" font-size="16" fill="#232526" letter-spacing="-0.224">Brent</text>
<text x="74.40" y="370" font-size="16" fill="#232526" letter-spacing="0.532">Petrol</text>
<text x="124.70" y="370" font-size="16" fill="#232526" letter-spacing="0.253">Vadeli</text>
<text x="174.10" y="370" font-size="16" fill="#232526" letter-spacing="0.449">İşlemleri</text>
<text x="257.10" y="370" font-size="16" font-weight="700" fill="#232526" letter-spacing="0.492">109,97</text>
<text x="315.90" y="370" font-size="14" font-weight="700" fill="#007c32" letter-spacing="1.066">+0,94</text>
<text x="363.70" y="370" font-size="14" font-weight="700" fill="#007c32" letter-spacing="1.081">(+0,86%)</text>
<text x="64.60" y="400" font-size="12" font-weight="700" fill="#1256a0" letter-spacing="0.094">Grafiği</text>
<text x="107.30" y="400" font-size="12" font-weight="700" fill="#1256a0" letter-spacing="-0.229">analiz</text>
<text x="143.96" y="400" font-size="12" font-weight="700" fill="#1256a0" letter-spacing="1.000">et</text>
<text x="1259.90" y="372" font-size="12" font-weight="700" fill="#fff" letter-spacing="-0.352">Satın</text>
<text x="1291.20" y="372" font-size="12" font-weight="700" fill="#fff" letter-spacing="0.334">Al</text>
<text x="1362.90" y="372" font-size="12" font-weight="700" fill="#fff" letter-spacing="-0.439">Sat</text>
</svg>
</body></html>
